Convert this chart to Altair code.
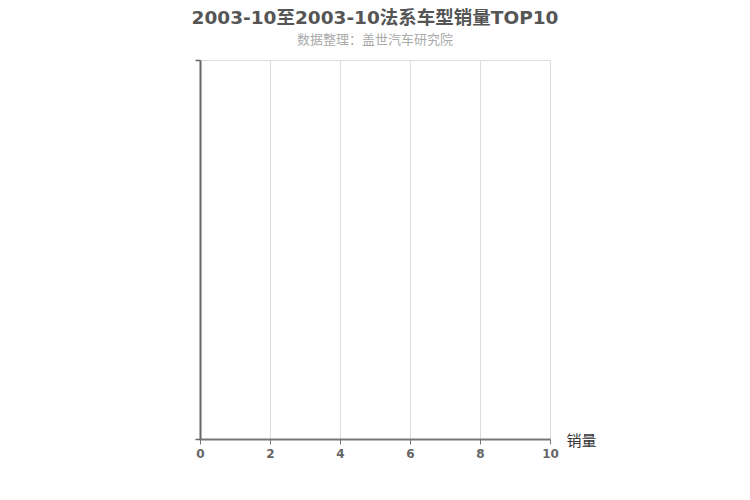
import altair as alt
import pandas as pd

# The reference chart contains no data rows (empty ranking)
models = []
sales = []

title_text = "2003-10至2003-10法系车型销量TOP10"
subtitle_text = "数据整理：盖世汽车研究院"
x_ticks = [0, 2, 4, 6, 8, 10]

df = pd.DataFrame({"车型": pd.Series(models, dtype="object"),
                   "销量": pd.Series(sales, dtype="float")})

FONT = "DejaVu Sans, Noto Sans CJK SC"

chart = alt.Chart(df).mark_bar(color="#c23531").encode(
    x=alt.X("销量:Q",
            scale=alt.Scale(domain=[0, 10], nice=False, zero=True),
            axis=alt.Axis(values=x_ticks, title="销量", grid=True, gridColor="#dddddd",
                          gridWidth=1, domainColor="#777777", domainWidth=2,
                          tickColor="#777777", tickSize=5, tickWidth=1,
                          labelColor="#666666", labelFontWeight="bold", labelFontSize=12,
                          labelFont=FONT, labelPadding=4, labelFlush=False,
                          titleFont=FONT, titleFontSize=15, titleFontWeight="normal",
                          titleColor="#333333", titleAnchor="start", titleAlign="left",
                          titleBaseline="middle", titleX=366, titleY=1, titleAngle=0)),
    y=alt.Y("车型:N", scale=alt.Scale(), axis=None),
).properties(
    width=350, height=379,
    title=alt.TitleParams(text=title_text, subtitle=subtitle_text, anchor="middle",
                          font=FONT, fontSize=18.5, fontWeight="bold", color="#555555",
                          subtitleFont=FONT, subtitleFontSize=13, subtitleColor="#aaaaaa",
                          subtitlePadding=7, offset=12),
)

yaxis = alt.Chart(pd.DataFrame({"v": pd.Series([], dtype="float")})).mark_point(opacity=0).encode(
    y=alt.Y("v:Q", scale=alt.Scale(domain=[0, 1], nice=False),
            axis=alt.Axis(values=[0, 1], labels=False, title=None, grid=False,
                          domainColor="#666666", domainWidth=2, tickColor="#666666",
                          tickSize=5, tickWidth=1.5))
)

final = alt.layer(chart, yaxis).resolve_scale(y="independent").properties(
    autosize=alt.AutoSizeParams(type="none"),
    padding={"left": 192, "top": 52, "right": 100, "bottom": 40},
    background="white",
).configure_view(stroke="#dddddd", strokeWidth=1)

final.save("out.html", embed_options={"renderer": "svg", "actions": False})
